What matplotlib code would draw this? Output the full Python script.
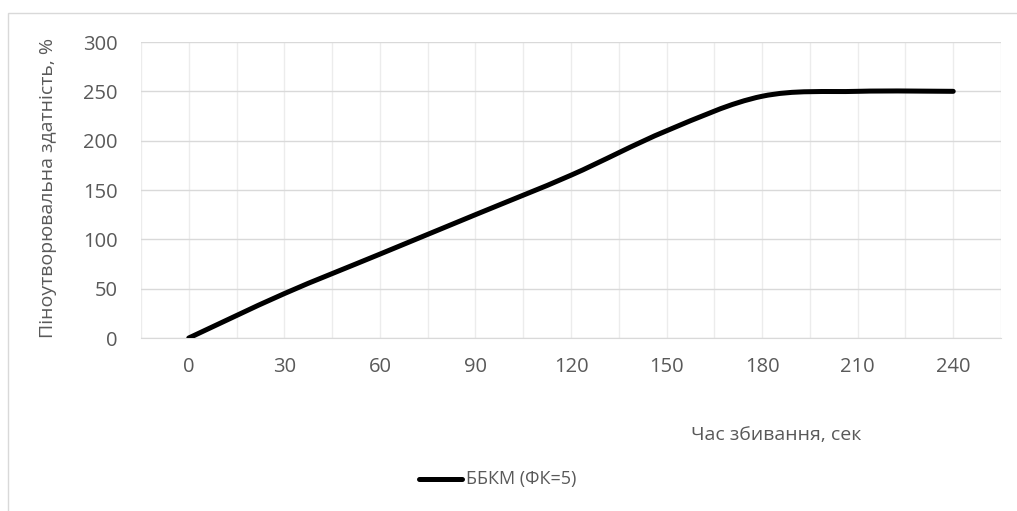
import numpy as np
import matplotlib.pyplot as plt
from matplotlib.path import Path
from matplotlib.patches import PathPatch, Rectangle
from matplotlib.lines import Line2D

plt.rcParams['font.family'] = ['Open Sans', 'DejaVu Sans']

# foaming time (s) and foaming capacity (%)
time_s = [0, 30, 60, 90, 120, 150, 180, 210, 240]
foam = [0, 45, 85, 125, 165, 210, 245, 250, 250]
series_name = "ББКМ (ФК=5)"

grey = "#595959"

fig = plt.figure(figsize=(10.17, 5.11), dpi=100)
ax = fig.add_axes([141 / 1017, (511 - 338) / 511, (1001 - 141) / 1017, (338 - 42) / 511])

# excel style smoothed line: catmull-rom as cubic bezier
pts = np.column_stack([time_s, foam]).astype(float)
verts = [tuple(pts[0])]
codes = [Path.MOVETO]
n = len(pts)
for i in range(n - 1):
    p0 = pts[max(i - 1, 0)]
    p1 = pts[i]
    p2 = pts[i + 1]
    p3 = pts[min(i + 2, n - 1)]
    c1 = p1 + (p2 - p0) / 6
    c2 = p2 - (p3 - p1) / 6
    verts += [tuple(c1), tuple(c2), tuple(p2)]
    codes += [Path.CURVE4] * 3
ax.add_patch(PathPatch(Path(verts, codes), facecolor="none", edgecolor="black",
                       lw=3.6, capstyle="round", joinstyle="round", zorder=3))

ax.set_xlim(-15, 255)
ax.set_ylim(0, 300)
ax.set_xticks(np.arange(0, 241, 30))
ax.set_xticks(np.arange(-15, 256, 15), minor=True)
ax.set_yticks(np.arange(0, 301, 50))
ax.grid(axis="y", color="#d9d9d9", lw=1)
ax.grid(axis="x", which="both", color="#ececec", lw=1)
ax.set_axisbelow(True)
for s in ["top", "right", "left"]:
    ax.spines[s].set_visible(False)
ax.spines["bottom"].set_color("#d9d9d9")
ax.tick_params(which="both", length=0)
ax.tick_params(axis="y", pad=17, labelsize=14.5, labelcolor=grey)
ax.tick_params(axis="x", pad=14, labelsize=14.5, labelcolor=grey)

fig.text(48 / 1017, 1 - 188 / 511, "Піноутворювальна здатність, %", rotation=90,
         ha="center", va="center", fontsize=14, color=grey)
fig.text(861 / 1017, 1 - 435 / 511, "Час збивання, сек", ha="right", va="center",
         fontsize=14, color=grey)

# legend
fig.add_artist(Line2D([419 / 1017, 462 / 1017], [1 - 479 / 511, 1 - 479 / 511],
                      color="black", lw=3.6, solid_capstyle="round"))
fig.text(466 / 1017, 1 - 479 / 511, series_name, ha="left", va="center",
         fontsize=13, color=grey)

# chart border
fig.add_artist(Rectangle((8 / 1017, -0.1), 1.2, 1.1 - 13 / 511, transform=fig.transFigure,
                         facecolor="none", edgecolor="#d9d9d9", lw=1))

fig.savefig("out.png", dpi=100)
